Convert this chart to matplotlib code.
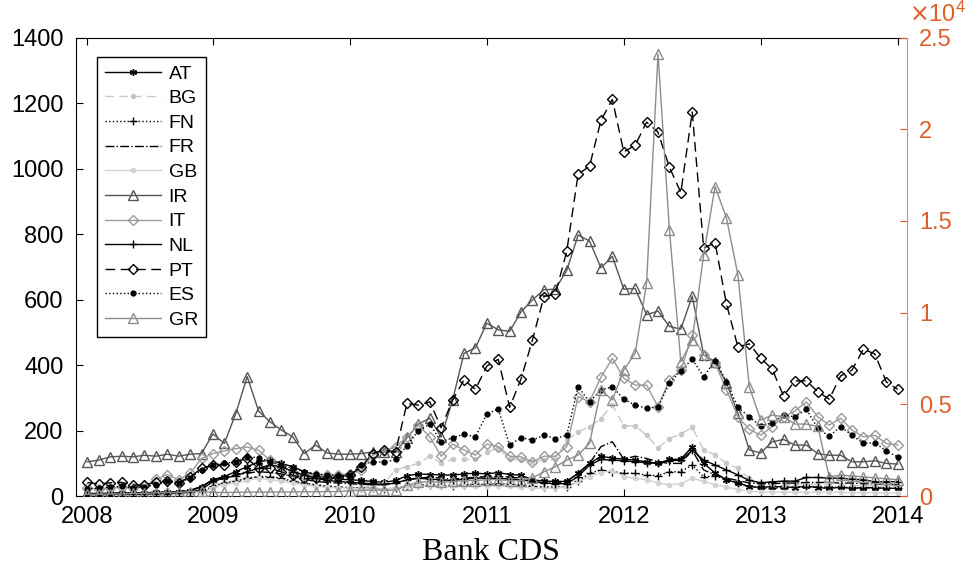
import matplotlib
matplotlib.use("Agg")
import matplotlib.pyplot as plt
import numpy as np

plt.rcParams['font.family'] = ['Liberation Sans', 'DejaVu Sans']

# month index 1..72 (Jan 2008 .. Dec 2013)
months = np.arange(1, 73)
year_ticks = [1, 12, 24, 36, 48, 60, 72]
year_labels = ['2008', '2009', '2010', '2011', '2012', '2013', '2014']

# CDS spreads, left axis
AT = [8, 8, 9, 10, 10, 10, 12, 12, 14, 16, 28, 50,
      60, 75, 90, 105, 110, 100, 90, 75, 65, 58, 52, 50,
      48, 45, 42, 48, 62, 68, 66, 65, 64, 68, 70, 68,
      72, 66, 64, 50, 46, 45, 45, 70, 100, 122, 116, 113,
      110, 105, 100, 112, 113, 151, 100, 71, 49, 41, 29, 27,
      29, 29, 26, 31, 26, 24, 27, 24, 26, 26, 24, 24]
BG = [5, 5, 5, 6, 6, 6, 8, 8, 10, 12, 20, 35,
      42, 48, 55, 58, 55, 50, 45, 38, 32, 30, 28, 27,
      26, 30, 40, 80, 90, 100, 122, 100, 112, 112, 112, 135,
      146, 112, 110, 105, 110, 112, 170, 197, 212, 237, 278, 215,
      215, 186, 148, 176, 190, 210, 141, 126, 100, 85, 54, 39,
      36, 35, 35, 38, 36, 35, 34, 33, 32, 32, 31, 30]
FN = [3, 3, 3, 4, 4, 4, 5, 5, 6, 8, 15, 30,
      40, 45, 55, 60, 60, 55, 45, 40, 35, 30, 28, 26,
      25, 24, 22, 25, 30, 35, 35, 33, 32, 35, 36, 36,
      38, 36, 35, 30, 28, 28, 28, 45, 70, 80, 75, 70,
      70, 64, 63, 74, 75, 95, 59, 62, 52, 40, 30, 25,
      25, 26, 27, 28, 28, 28, 27, 26, 25, 24, 24, 24]
FR = [8, 8, 8, 10, 10, 10, 12, 12, 15, 18, 30, 50,
      58, 65, 70, 75, 72, 68, 60, 52, 45, 42, 40, 38,
      36, 35, 35, 40, 50, 55, 58, 55, 52, 55, 58, 60,
      60, 58, 55, 45, 40, 40, 45, 70, 100, 151, 166, 113,
      122, 115, 105, 100, 100, 140, 80, 65, 55, 48, 40, 38,
      38, 40, 40, 42, 42, 42, 40, 40, 38, 38, 36, 35]
GB = [3, 3, 3, 4, 4, 4, 5, 5, 6, 8, 12, 25,
      35, 40, 48, 55, 50, 45, 40, 35, 30, 27, 25, 24,
      22, 22, 22, 25, 30, 32, 30, 30, 30, 30, 30, 32,
      32, 30, 28, 25, 24, 25, 28, 45, 60, 72, 78, 60,
      55, 50, 40, 35, 38, 55, 45, 35, 28, 20, 15, 13,
      12, 12, 12, 12, 12, 12, 12, 11, 11, 11, 10, 10]
IR = [105, 110, 120, 122, 120, 125, 122, 128, 122, 128, 130, 190,
      161, 252, 365, 260, 227, 202, 181, 130, 156, 132, 128, 128,
      130, 135, 135, 135, 178, 220, 238, 180, 293, 436, 453, 528,
      508, 503, 563, 599, 630, 632, 689, 797, 779, 697, 732, 632,
      634, 554, 565, 518, 510, 611, 431, 411, 345, 253, 141, 132,
      166, 173, 156, 156, 130, 125, 125, 105, 105, 108, 100, 98]
IT = [25, 22, 25, 28, 25, 30, 51, 66, 50, 70, 115, 130,
      138, 145, 150, 140, 110, 90, 74, 65, 65, 65, 65, 69,
      79, 125, 138, 151, 181, 217, 181, 122, 159, 141, 125, 159,
      151, 122, 120, 105, 122, 122, 151, 304, 288, 363, 421, 360,
      339, 339, 273, 355, 385, 492, 431, 406, 324, 242, 204, 186,
      212, 242, 260, 288, 242, 217, 238, 202, 181, 186, 161, 156]
NL = [5, 5, 5, 6, 6, 6, 8, 8, 10, 12, 20, 45,
      55, 62, 75, 85, 95, 90, 75, 65, 55, 48, 45, 42,
      40, 38, 36, 40, 50, 55, 52, 50, 48, 52, 55, 55,
      55, 52, 50, 45, 40, 38, 38, 60, 95, 112, 110, 108,
      105, 102, 100, 108, 110, 140, 110, 95, 80, 65, 48, 41,
      44, 46, 46, 57, 57, 55, 55, 52, 50, 44, 44, 44]
PT = [42, 37, 41, 42, 34, 34, 42, 47, 41, 59, 85, 95,
      95, 105, 115, 85, 85, 74, 64, 54, 54, 54, 59, 64,
      90, 130, 141, 135, 283, 278, 288, 209, 293, 355, 326, 397,
      418, 271, 358, 477, 609, 617, 747, 983, 1007, 1147, 1211, 1051,
      1071, 1142, 1111, 1004, 927, 1173, 757, 774, 586, 456, 465, 421,
      388, 306, 352, 352, 319, 296, 367, 385, 449, 434, 349, 326]
ES = [22, 25, 28, 30, 25, 28, 35, 45, 40, 55, 80, 95,
      100, 105, 120, 118, 105, 95, 85, 75, 68, 65, 62, 64,
      95, 105, 103, 112, 154, 200, 220, 166, 178, 189, 181, 251,
      266, 156, 179, 171, 186, 176, 186, 334, 288, 324, 334, 296,
      278, 268, 273, 345, 383, 418, 365, 414, 349, 271, 242, 214,
      224, 248, 242, 265, 207, 183, 212, 186, 161, 163, 138, 120]
# Greece, right axis
GR = [100, 100, 120, 120, 150, 150, 180, 200, 200, 250, 260, 200,
      200, 210, 220, 220, 230, 230, 230, 240, 240, 250, 250, 300,
      320, 330, 330, 330, 600, 750, 800, 750, 800, 850, 850, 900,
      900, 850, 850, 1000, 1327, 1600, 1965, 2238, 2877, 5786, 5240, 6878,
      7790, 11612, 24108, 14520, 7330, 8515, 13155, 16878, 15160, 12066, 5967, 4149,
      4422, 4330, 3930, 3930, 3800, 1055, 1147, 1100, 1050, 1000, 950, 900]

orange = '#DC5F28'
orange_spine = '#E6875C'

fig = plt.figure(figsize=(9.74, 5.69), dpi=100)
ax = fig.add_axes([0.078, 0.128, 0.853, 0.806])
ax2 = ax.twinx()

lw = 1.0
h = []
h += ax.plot(months, AT, color='black', ls='-', lw=lw, marker=(6, 2, 0), ms=5, label='AT')
h += ax.plot(months, BG, color='#c8c8c8', ls=(0, (6, 4)), lw=lw, marker='.', ms=6, label='BG')
h += ax.plot(months, FN, color='black', ls=':', lw=lw, marker='+', ms=6, label='FN')
h += ax.plot(months, FR, color='black', ls='-.', lw=lw, label='FR')
h += ax.plot(months, GB, color='#d2d2d2', ls='-', lw=lw, marker='.', ms=6, label='GB')
h += ax.plot(months, IR, color='#555555', ls='-', lw=lw, marker='^', ms=7, mfc='none', label='IR')
h += ax.plot(months, IT, color='#9a9a9a', ls='-', lw=lw, marker='D', ms=5, mfc='none', label='IT')
h += ax.plot(months, NL, color='black', ls='-', lw=lw, marker='+', ms=6, label='NL')
h += ax.plot(months, PT, color='black', ls=(0, (7, 4)), lw=lw, marker='D', ms=5, mfc='none', label='PT')
h += ax.plot(months, ES, color='black', ls=':', lw=lw, marker='.', ms=7, label='ES')
h += ax2.plot(months, GR, color='#8c8c8c', ls='-', lw=lw, marker='^', ms=7, mfc='none', label='GR')

ax.set_xlim(0, 72.8)
ax.set_ylim(0, 1400)
ax.set_yticks(range(0, 1401, 200))
ax.set_xticks(year_ticks)
ax.set_xticklabels(year_labels)
ax.tick_params(axis='both', direction='in', length=5, labelsize=17, top=True, right=False, pad=9)
ax.tick_params(axis='x', pad=7)
ax.spines['right'].set_visible(False)

ax2.set_ylim(0, 25000)
ax2.set_yticks(range(0, 25001, 5000))
ax2.set_yticklabels(['0', '0.5', '1', '1.5', '2', '2.5'])
ax2.tick_params(axis='y', direction='in', length=5, labelsize=17, colors=orange, pad=9)
ax2.spines['right'].set_color(orange_spine)
for s in ['left', 'top', 'bottom']:
    ax2.spines[s].set_visible(False)
ax2.text(1.003, 1.024, r'$\times\mathregular{10^{4}}$', transform=ax2.transAxes, color=orange,
         fontsize=17, ha='left', va='bottom')

ax.set_xlabel('Bank CDS', family=['Liberation Serif', 'DejaVu Serif'], fontsize=23, labelpad=7)

leg = ax2.legend(handles=h, loc='upper left', bbox_to_anchor=(0.025, 0.957), fontsize=14,
                 numpoints=1, handlelength=2.9, handletextpad=0.4, labelspacing=0.36,
                 borderpad=0.4, borderaxespad=0, fancybox=False, framealpha=1)
leg.get_frame().set_edgecolor('black')
leg.get_frame().set_linewidth(1.0)

fig.savefig('out.png', dpi=100)
